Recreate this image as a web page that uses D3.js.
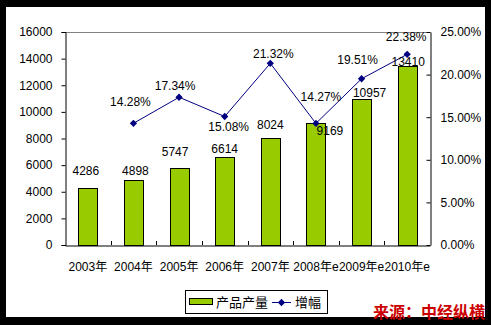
<!DOCTYPE html>
<html>
<head>
<meta charset="utf-8">
<script src="https://cdn.jsdelivr.net/npm/d3@7"></script>
<style>
  html, body { margin: 0; padding: 0; background: #000; }
  svg { display: block; }
</style>
</head>
<body>
<svg id="chart" width="491" height="325"></svg>
<script>
// Output and growth rate by year
const years = ["2003年", "2004年", "2005年", "2006年", "2007年", "2008年e", "2009年e", "2010年e"];
const output = [4286, 4898, 5747, 6614, 8024, 9169, 10957, 13410];
const growth = [null, 14.28, 17.34, 15.08, 21.32, 14.27, 19.51, 22.38];
const leftTicks = [0, 2000, 4000, 6000, 8000, 10000, 12000, 14000, 16000];
const rightTicks = [0, 5, 10, 15, 20, 25];

// label nudges (px) relative to each bar top / line point
const barLabelNudge = [[-2, -17], [2, -9], [-4, -17], [0, -8], [0, -13], [14, 8], [8, -6], [1, -5]];
const pctLabelNudge = [null, [-3, -22], [-4, -11], [4, 10], [3, -10], [5, -27], [-4, -19], [-1, -18]];

const svg = d3.select("#chart");
const W = 491, H = 325;
const latin = "'Liberation Sans', Arial, sans-serif";
const cjk = "'Liberation Sans', Arial, 'Noto Sans CJK SC', sans-serif";

// frame
svg.append("rect").attr("width", W).attr("height", H).attr("fill", "#000");
svg.append("rect").attr("x", 6).attr("y", 7).attr("width", 479).attr("height", 310).attr("fill", "#fff");

const plot = { left: 65, right: 430, top: 32, bottom: 245 };

const x = d3.scaleBand().domain(years).range([plot.left, plot.right]).paddingInner(0).paddingOuter(0);
const yL = d3.scaleLinear().domain([0, 16000]).range([plot.bottom, plot.top]);
const yR = d3.scaleLinear().domain([0, 25]).range([plot.bottom, plot.top]);
const barW = 19;

// plot area top border
svg.append("line")
  .attr("x1", plot.left).attr("x2", plot.right)
  .attr("y1", plot.top + 0.5).attr("y2", plot.top + 0.5)
  .attr("stroke", "#808080").attr("stroke-width", 1);

// bars
svg.append("g").selectAll("rect").data(output).join("rect")
  .attr("x", (d, i) => Math.round(x(years[i]) + x.bandwidth() / 2 - barW / 2) + 0.5)
  .attr("y", d => Math.round(yL(d)) + 0.5)
  .attr("width", barW)
  .attr("height", d => plot.bottom - Math.round(yL(d)))
  .attr("fill", "#99cc00")
  .attr("stroke", "#000").attr("stroke-width", 1);

// left axis
const axL = svg.append("g").attr("transform", `translate(${plot.left + 0.5},0)`)
  .call(d3.axisLeft(yL).tickValues(leftTicks).tickSize(4).tickPadding(9).tickFormat(d3.format("d")));
axL.select(".domain").attr("stroke", "#000");
axL.selectAll(".tick line").attr("stroke", "#000");
axL.selectAll("text").attr("font-family", latin).attr("font-size", 12).attr("fill", "#000");

// right axis (ticks point inward)
const axR = svg.append("g").attr("transform", `translate(${plot.right + 0.5},0)`)
  .call(d3.axisRight(yR).tickValues(rightTicks).tickSize(0).tickPadding(10).tickFormat(d => d.toFixed(2) + "%"));
axR.select(".domain").attr("stroke", "#000");
axR.selectAll(".tick").append("line").attr("x1", -4).attr("x2", 0).attr("stroke", "#000");
axR.selectAll("text").attr("font-family", latin).attr("font-size", 12).attr("fill", "#000");

// bottom axis with inward ticks at category boundaries
const axB = svg.append("g").attr("transform", `translate(0,${plot.bottom + 0.5})`)
  .call(d3.axisBottom(x).tickSize(0).tickPadding(17));
axB.select(".domain").attr("stroke", "#000");
axB.selectAll("text").attr("font-family", cjk).attr("font-size", 12).attr("fill", "#000");
svg.append("g").selectAll("line").data(years.slice(1)).join("line")
  .attr("x1", d => Math.round(x(d)) + 0.5).attr("x2", d => Math.round(x(d)) + 0.5)
  .attr("y1", plot.bottom - 4).attr("y2", plot.bottom)
  .attr("stroke", "#000");

// growth line
const pts = growth.map((g, i) => ({ g, i })).filter(p => p.g !== null);
const cx = i => x(years[i]) + x.bandwidth() / 2;
svg.append("path")
  .datum(pts)
  .attr("d", d3.line().x(p => cx(p.i)).y(p => yR(p.g)))
  .attr("fill", "none").attr("stroke", "#000080").attr("stroke-width", 1);
const diamond = d3.symbol().type(d3.symbolDiamond2).size(34);
svg.append("g").selectAll("path").data(pts).join("path")
  .attr("transform", p => `translate(${cx(p.i)},${yR(p.g)})`)
  .attr("d", diamond)
  .attr("fill", "#000080");

// bar value labels
svg.append("g").selectAll("text").data(output).join("text")
  .attr("x", (d, i) => cx(i) + barLabelNudge[i][0])
  .attr("y", (d, i) => yL(d) + barLabelNudge[i][1])
  .attr("dy", "0.35em")
  .attr("text-anchor", "middle")
  .attr("font-family", latin).attr("font-size", 12).attr("fill", "#000")
  .text(d => d);

// growth labels
svg.append("g").selectAll("text").data(pts).join("text")
  .attr("x", p => cx(p.i) + pctLabelNudge[p.i][0])
  .attr("y", p => yR(p.g) + pctLabelNudge[p.i][1])
  .attr("dy", "0.35em")
  .attr("text-anchor", "middle")
  .attr("font-family", latin).attr("font-size", 12).attr("fill", "#000")
  .text(p => p.g.toFixed(2) + "%");

// legend
const lg = svg.append("g");
lg.append("rect").attr("x", 185.5).attr("y", 290.5).attr("width", 142).attr("height", 23)
  .attr("fill", "#fff").attr("stroke", "#000");
lg.append("rect").attr("x", 189.5).attr("y", 298.5).attr("width", 23).attr("height", 6)
  .attr("fill", "#99cc00").attr("stroke", "#000");
lg.append("text").attr("x", 216).attr("y", 302).attr("dy", "0.35em")
  .attr("font-family", "'Noto Sans CJK SC', sans-serif").attr("font-size", 13).attr("fill", "#000")
  .text("产品产量");
lg.append("line").attr("x1", 272).attr("x2", 291).attr("y1", 302.5).attr("y2", 302.5)
  .attr("stroke", "#000080");
lg.append("path").attr("transform", "translate(281.5,302.5)").attr("d", diamond).attr("fill", "#000080");
lg.append("text").attr("x", 295).attr("y", 302).attr("dy", "0.35em")
  .attr("font-family", "'Noto Sans CJK SC', sans-serif").attr("font-size", 13).attr("fill", "#000")
  .text("增幅");

// source note
svg.append("text").attr("x", 485).attr("y", 312).attr("dy", "0.35em")
  .attr("text-anchor", "end")
  .attr("font-family", "'Noto Sans CJK SC', sans-serif").attr("font-size", 16).attr("font-weight", "bold")
  .attr("fill", "#cc0000")
  .text("来源：中经纵横");
</script>
</body>
</html>
